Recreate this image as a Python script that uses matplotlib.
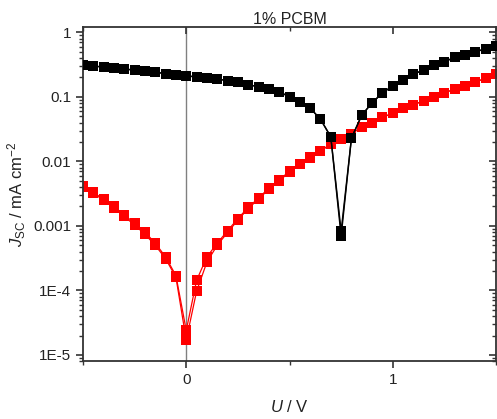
import numpy as np
import matplotlib
matplotlib.use("Agg")
import matplotlib.pyplot as plt
from matplotlib.ticker import FixedLocator, FixedFormatter, LogLocator, NullFormatter, MultipleLocator

plt.rcParams['font.family'] = ['Liberation Sans', 'DejaVu Sans']
plt.rcParams['mathtext.fontset'] = 'custom'
plt.rcParams['mathtext.rm'] = 'Liberation Sans'
plt.rcParams['mathtext.it'] = 'Liberation Sans:italic'

# voltage, 0.05 V steps
U = [-0.50, -0.45, -0.40, -0.35, -0.30, -0.25, -0.20, -0.15, -0.10, -0.05,
     0.00, 0.05, 0.10, 0.15, 0.20, 0.25, 0.30, 0.35, 0.40, 0.45,
     0.50, 0.55, 0.60, 0.65, 0.70, 0.75, 0.80, 0.85, 0.90, 0.95,
     1.00, 1.05, 1.10, 1.15, 1.20, 1.25, 1.30, 1.35, 1.40, 1.45, 1.50]

# black series (two scans)
J_black_a = [0.31, 0.30, 0.29, 0.28, 0.27, 0.26, 0.25, 0.24, 0.23, 0.22,
             0.21, 0.205, 0.195, 0.19, 0.178, 0.172, 0.154, 0.144, 0.134, 0.12,
             0.10, 0.084, 0.067, 0.045, 0.024, 0.00083, 0.023, 0.052, 0.081, 0.115,
             0.148, 0.183, 0.226, 0.26, 0.31, 0.35, 0.41, 0.45, 0.50, 0.555, 0.61]
J_black_b = [0.31, 0.30, 0.29, 0.28, 0.27, 0.26, 0.25, 0.24, 0.23, 0.22,
             0.21, 0.205, 0.195, 0.19, 0.178, 0.172, 0.154, 0.144, 0.134, 0.12,
             0.10, 0.084, 0.067, 0.045, 0.024, 0.00069, 0.023, 0.052, 0.081, 0.115,
             0.148, 0.183, 0.226, 0.26, 0.31, 0.35, 0.41, 0.45, 0.50, 0.555, 0.61]

# red series (two scans)
J_red_a = [0.0041, 0.0033, 0.0026, 0.0020, 0.00148, 0.0011, 0.00080, 0.00054, 0.00033, 0.00017,
           2.4e-5, 1.43e-4, 3.3e-4, 5.4e-4, 8.4e-4, 0.0013, 0.00193, 0.0027, 0.00385, 0.0052,
           0.0070, 0.0092, 0.0116, 0.0147, 0.0185, 0.0225, 0.027, 0.034, 0.040, 0.048,
           0.056, 0.067, 0.075, 0.0875, 0.101, 0.116, 0.131, 0.148, 0.17, 0.194, 0.224]
J_red_b = [0.0040, 0.0032, 0.0025, 0.0019, 0.00140, 0.00103, 0.00074, 0.00050, 0.00031, 0.00016,
           1.7e-5, 9.7e-5, 2.75e-4, 5.0e-4, 7.9e-4, 0.00123, 0.00186, 0.0026, 0.0037, 0.0050,
           0.0068, 0.0090, 0.0114, 0.0145, 0.0183, 0.0222, 0.027, 0.034, 0.040, 0.048,
           0.056, 0.067, 0.075, 0.0875, 0.101, 0.116, 0.131, 0.148, 0.17, 0.194, 0.224]

y_ticks = [1e-5, 1e-4, 1e-3, 1e-2, 1e-1, 1]
y_labels = ['1E-5', '1E-4', '0.001', '0.01', '0.1', '1']

fig = plt.figure(figsize=(4.97, 4.19), dpi=100)
ax = fig.add_axes([0.167, 0.138, 0.831, 0.797])

ax.axvline(0, color='#808080', lw=1.0, zorder=1)

for J in (J_red_a, J_red_b):
    ax.plot(U, J, color='#ff0000', lw=0.9, marker='s', ms=7, mew=0, zorder=2)
for J in (J_black_a, J_black_b):
    ax.plot(U, J, color='black', lw=1.0, marker='s', ms=7, mew=0, zorder=3)

ax.set_yscale('log')
ax.set_xlim(-0.5, 1.5)
ax.set_ylim(8e-6, 1.2)

ax.yaxis.set_major_locator(FixedLocator(y_ticks))
ax.yaxis.set_major_formatter(FixedFormatter(y_labels))
ax.yaxis.set_minor_locator(LogLocator(base=10, subs=np.arange(2, 10)))
ax.yaxis.set_minor_formatter(NullFormatter())
ax.xaxis.set_major_locator(FixedLocator([0, 1]))
ax.xaxis.set_major_formatter(FixedFormatter(['0', '1']))
ax.xaxis.set_minor_locator(MultipleLocator(0.5))

for s in ax.spines.values():
    s.set_color('#333333')
    s.set_linewidth(1.3)

ax.tick_params(which='both', labelsize=11, color='#333333', labelcolor='#222222')
ax.tick_params(which='major', length=5, width=1.2)
ax.tick_params(which='minor', length=3, width=1.0)
ax.tick_params(axis='y', which='both', direction='out', right=True)
ax.tick_params(axis='x', which='both', direction='out', top=True)

# inward ticks on the opposite sides
for t in ax.yaxis.get_ticklines(minor=False)[1::2] + ax.yaxis.get_ticklines(minor=True)[1::2]:
    t.set_marker(0)
for t in ax.xaxis.get_ticklines(minor=False)[1::2] + ax.xaxis.get_ticklines(minor=True)[1::2]:
    t.set_marker(3)

ax.set_title('1% PCBM', fontsize=11.5, pad=2, color='#222222')
ax.set_xlabel('$U$ / V', fontsize=12, color='#222222', labelpad=9)
ax.set_ylabel('$J_{\\mathrm{SC}}$ / mA cm$^{-2}$', fontsize=12, color='#222222', labelpad=4)

fig.savefig('out.png', dpi=100)
